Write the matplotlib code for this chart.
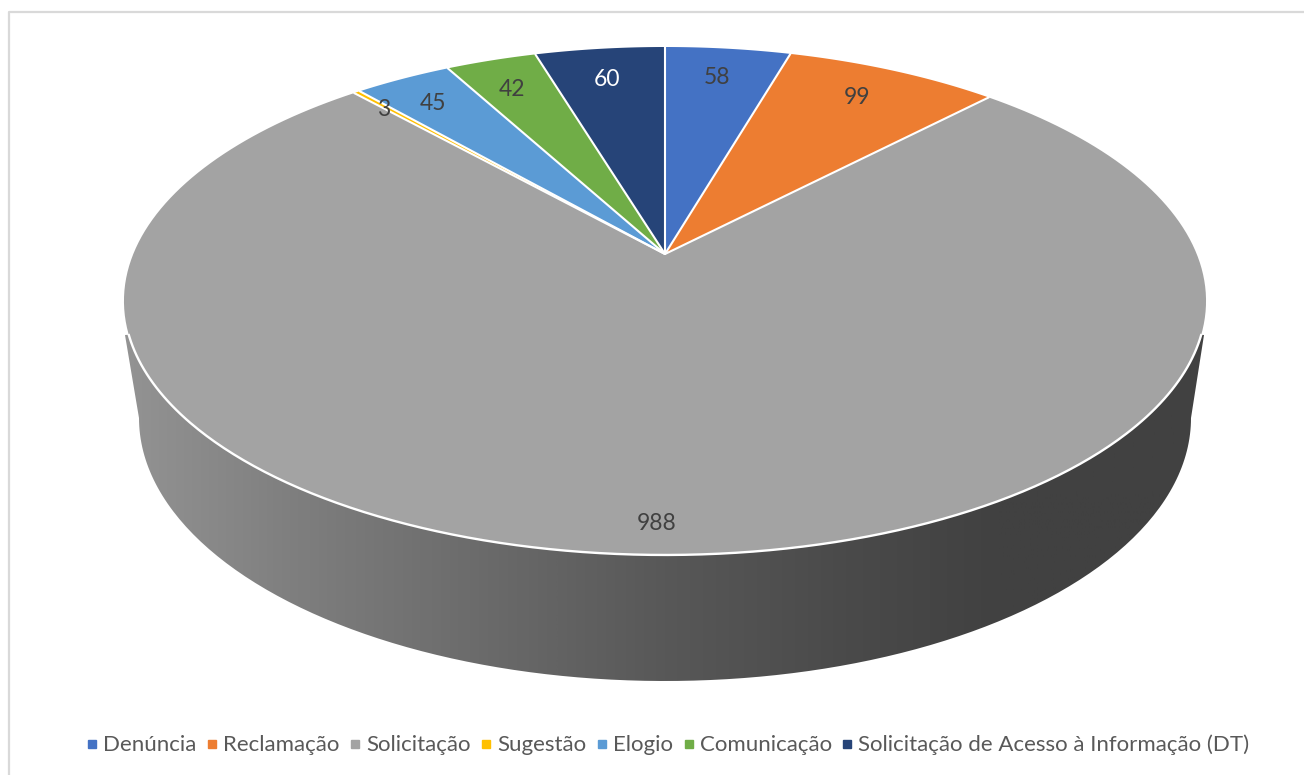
"""3D style pie of ombudsman records by type."""

from __future__ import annotations

import matplotlib

matplotlib.use("Agg")
import matplotlib.pyplot as plt
import numpy as np
from matplotlib.colors import LinearSegmentedColormap
from matplotlib.lines import Line2D
from matplotlib.patches import PathPatch, Polygon
from matplotlib.path import Path

CATEGORIES = [
    "Denúncia",
    "Reclamação",
    "Solicitação",
    "Sugestão",
    "Elogio",
    "Comunicação",
    "Solicitação de Acesso à Informação (DT)",
]
VALUES = [58, 99, 988, 3, 45, 42, 60]
COLORS = ["#4472C4", "#ED7D31", "#A3A3A3", "#FFC000", "#5B9BD5", "#70AD47", "#264478"]
LABEL_COLORS = ["#404040"] * 6 + ["#FFFFFF"]

# hand placed label spots, in pixels
LABEL_X = [717, 857, 657, 384, 433, 512, 607]
LABEL_Y = [76, 96, 522, 107, 101, 88, 78]

W, H = 1304, 775
CX = 665
# perspective of the lid, apex sits above the ellipse centre
PERSP_K = 0.185
PERSP_A = -198.3
PERSP_B = 254
PERSP_C = 531.7


def lid_point(theta):
    """Map clockwise angle from the top of the pie onto the tilted lid."""
    u, v = np.sin(theta), np.cos(theta)
    w = 1 + PERSP_K * v
    return CX + PERSP_C * u / w, (PERSP_A * v + PERSP_B) / w


def side_wall(ax):
    t = np.linspace(0, np.pi, 200)
    xs = CX - 526 * np.cos(t)
    ys = 418 + 263 * np.sin(t)
    verts = [(125, 335)] + list(zip(xs, ys)) + [(1204, 335), (665, 300), (125, 335)]
    clip = PathPatch(Path(verts), facecolor="none", edgecolor="none", transform=ax.transData)
    ax.add_patch(clip)

    stops = [
        (0.0, "#939393"),
        (0.16, "#7e7e7e"),
        (0.30, "#6e6e6e"),
        (0.50, "#585858"),
        (0.67, "#4a4a4a"),
        (0.81, "#414141"),
        (1.0, "#414141"),
    ]
    cmap = LinearSegmentedColormap.from_list("wall", stops)
    img = ax.imshow(
        np.linspace(0, 1, 512).reshape(1, -1),
        cmap=cmap,
        extent=(125, 1204, 690, 300),
        aspect="auto",
        zorder=1,
    )
    img.set_clip_path(clip)


def main() -> None:
    fig = plt.figure(figsize=(W / 100, H / 100), dpi=100)
    ax = fig.add_axes([0, 0, 1, 1])
    ax.set_xlim(0, W)
    ax.set_ylim(H, 0)
    ax.axis("off")

    plt.rcParams["font.family"] = ["Lato", "DejaVu Sans"]

    # chart frame, cropped at the right and bottom of the picture
    ax.plot([9, 9, W + 5], [H + 5, 11.5, 11.5], color="#D9D9D9", lw=1.6, zorder=0)

    side_wall(ax)

    shares = np.cumsum([0] + VALUES) / sum(VALUES) * 2 * np.pi
    for i, color in enumerate(COLORS):
        t = np.linspace(shares[i], shares[i + 1], 200)
        xs, ys = lid_point(t)
        verts = [(CX, PERSP_B)] + list(zip(xs, ys))
        ax.add_patch(Polygon(verts, closed=True, facecolor=color, edgecolor="none", zorder=3))

    for i in range(len(VALUES)):
        ex, ey = lid_point(shares[i])
        ax.plot([CX, ex], [PERSP_B, ey], color="white", lw=1.5, zorder=4, solid_capstyle="round")

    # white rim only shows where the lid meets the wall
    t_rim = np.linspace(0, 2 * np.pi, 720)
    rim_x, rim_y = lid_point(t_rim)
    low = rim_y >= 335
    ax.plot(rim_x[low], rim_y[low], color="white", lw=1.7, zorder=4)

    for x, y, val, color in zip(LABEL_X, LABEL_Y, VALUES, LABEL_COLORS):
        ax.text(x, y, str(val), color=color, fontsize=16.5, ha="center", va="center_baseline", zorder=5)

    handles = [
        Line2D([], [], linestyle="none", marker="s", markersize=6.2, color=c, label=name)
        for c, name in zip(COLORS, CATEGORIES)
    ]
    ax.legend(
        handles=handles,
        ncol=len(handles),
        loc="center",
        bbox_to_anchor=(668.5, 745),
        bbox_transform=ax.transData,
        frameon=False,
        fontsize=16,
        labelcolor="#595959",
        handlelength=0.4,
        handletextpad=0.3,
        columnspacing=0.5,
        borderpad=0,
    )

    fig.savefig("out.png", dpi=100)
    plt.close(fig)


if __name__ == "__main__":
    main()
